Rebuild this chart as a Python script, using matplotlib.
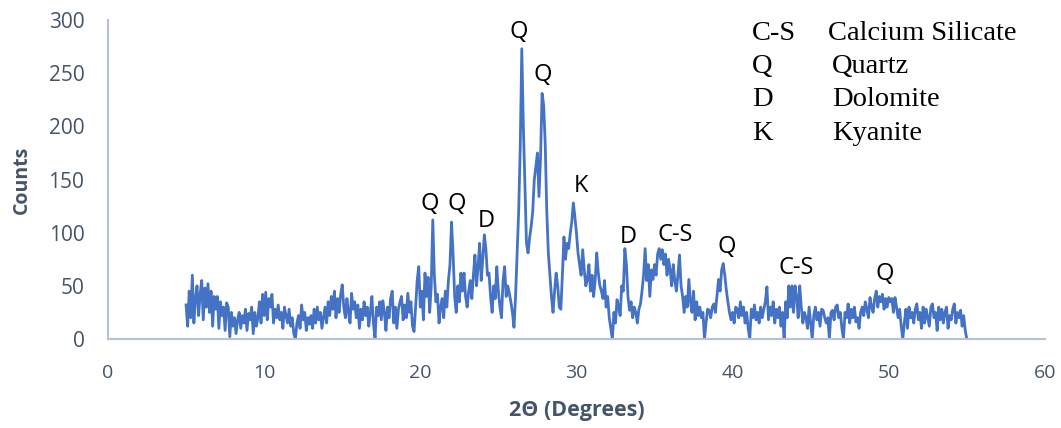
import numpy as np
import matplotlib.pyplot as plt

# XRD pattern, 5.0 to 55.0 deg in 0.1 deg steps
two_theta = np.round(np.arange(5.0, 55.05, 0.1), 1)
counts = [
    32, 12, 45, 20, 60, 15, 38, 50, 22, 42,
    55, 18, 48, 30, 52, 25, 45, 12, 40, 28,
    40, 10, 35, 22, 30, 8, 34, 30, 2, 25,
    12, 20, 5, 18, 25, 10, 22, 15, 28, 8,
    24, 18, 30, 5, 25, 12, 20, 35, 15, 42,
    22, 44, 18, 38, 30, 42, 15, 28, 20, 32,
    18, 25, 10, 30, 22, 15, 28, 12, 20, 5,
    0, 15, 22, 10, 32, 18, 25, 8, 20, 14,
    22, 10, 28, 15, 30, 18, 25, 10, 20, 30,
    15, 35, 22, 40, 28, 45, 20, 38, 25, 42,
    51, 30, 20, 38, 25, 15, 43, 28, 35, 20,
    32, 10, 28, 18, 35, 22, 30, 12, 25, 40,
    15, 0, 30, 22, 35, 18, 36, 25, 8, 30,
    20, 38, 45, 15, 30, 10, 28, 35, 40, 18,
    32, 20, 43, 25, 35, 12, 7, 30, 55, 68,
    30, 45, 18, 62, 40, 58, 25, 50, 112, 60,
    35, 42, 15, 30, 38, 20, 45, 30, 55, 70,
    110, 80, 40, 25, 50, 35, 62, 45, 62, 40,
    30, 45, 55, 38, 60, 79, 50, 68, 90, 55,
    75, 98, 85, 60, 62, 40, 25, 50, 38, 68,
    45, 30, 20, 55, 68, 40, 50, 43, 35, 25,
    11, 40, 81, 120, 180, 273, 200, 143, 90, 81,
    95, 106, 120, 150, 162, 175, 134, 170, 231, 220,
    184, 120, 81, 60, 40, 25, 45, 62, 50, 30,
    28, 60, 96, 75, 90, 85, 99, 110, 128, 115,
    100, 81, 70, 60, 84, 65, 50, 56, 70, 45,
    60, 40, 55, 81, 62, 50, 45, 38, 55, 30,
    40, 20, 10, 0, 25, 15, 37, 30, 22, 50,
    45, 85, 70, 40, 27, 35, 20, 30, 25, 15,
    28, 33, 45, 60, 85, 55, 70, 40, 65, 56,
    70, 60, 80, 85, 75, 84, 70, 80, 60, 75,
    65, 50, 70, 55, 45, 60, 79, 50, 40, 25,
    40, 30, 56, 35, 25, 45, 18, 35, 22, 30,
    20, 25, 0, 15, 28, 27, 20, 30, 33, 25,
    40, 56, 45, 65, 71, 60, 46, 35, 25, 18,
    25, 15, 30, 28, 20, 35, 22, 30, 15, 25,
    10, 0, 28, 20, 32, 18, 25, 15, 30, 20,
    28, 35, 49, 18, 30, 22, 35, 15, 28, 20,
    30, 12, 25, 0, 35, 20, 50, 30, 50, 25,
    50, 40, 20, 50, 30, 15, 25, 20, 10, 30,
    15, 0, 22, 30, 18, 25, 12, 28, 27, 20,
    15, 20, 0, 25, 27, 18, 30, 32, 20, 25,
    10, 0, 25, 20, 33, 15, 28, 20, 30, 16,
    20, 10, 25, 30, 22, 35, 28, 20, 39, 30,
    25, 38, 45, 30, 40, 35, 42, 28, 38, 30,
    39, 35, 38, 25, 39, 30, 20, 28, 12, 0,
    15, 28, 10, 30, 20, 25, 15, 28, 33, 18,
    25, 10, 30, 15, 28, 20, 12, 30, 33, 20,
    25, 8, 30, 18, 28, 15, 25, 30, 10, 22,
    18, 28, 33, 15, 25, 20, 27, 12, 22, 8,
    0,
]

# peak labels
peak_text = ["Q", "Q", "D", "Q", "Q", "K", "D", "C-S", "Q", "C-S", "Q"]
peak_x = [20.6, 22.35, 24.2, 26.3, 27.85, 30.3, 33.3, 36.3, 39.6, 44.1, 49.75]
peak_y = [127, 127, 111, 289, 248, 144, 96, 98, 87, 67, 61]

key_abbr = ["C-S", "Q", "D", "K"]
key_name = ["Calcium Silicate", "Quartz", "Dolomite", "Kyanite"]

line_col = "#4472C4"
txt_col = "#44546A"
spine_col = "#B8C2D4"

fig = plt.figure(figsize=(10.61, 4.28), dpi=100)
ax = fig.add_axes([0.1018, 0.208, 0.883, 0.745])
ax.plot(two_theta, counts, color=line_col, lw=2)

ax.set_xlim(0, 60)
ax.set_ylim(0, 300)
ax.set_xticks(range(0, 61, 10))
ax.set_yticks(range(0, 301, 50))
for s in ["top", "right"]:
    ax.spines[s].set_visible(False)
for s in ["left", "bottom"]:
    ax.spines[s].set_color(spine_col)
    ax.spines[s].set_linewidth(1.5)
ax.tick_params(length=0, colors=txt_col)
ax.tick_params(axis="x", pad=18, labelsize=14)
ax.tick_params(axis="y", pad=17, labelsize=15)
for lab in ax.get_xticklabels() + ax.get_yticklabels():
    lab.set_fontfamily("Open Sans")
    lab.set_color(txt_col)

ax.set_ylabel("Counts", fontsize=14, fontweight="bold", color=txt_col,
              fontfamily="Open Sans", labelpad=12)
ax.set_xlabel("2Θ (Degrees)", fontsize=15.5, fontweight="bold", color=txt_col,
              fontfamily="Open Sans", labelpad=13)

for t, x, y in zip(peak_text, peak_x, peak_y):
    ax.text(x, y, t, fontsize=17, ha="center", va="center", color="black",
            fontfamily="Open Sans")

for i in range(len(key_abbr)):
    yy = 1 - (33 + 33.5 * i) / 428
    fig.text(752 / 1061, yy, key_abbr[i], fontsize=20.5, fontfamily="Liberation Serif",
             va="center", ha="left")
    xx = 828 if i == 0 else 832
    fig.text(xx / 1061, yy, key_name[i], fontsize=20.5, fontfamily="Liberation Serif",
             va="center", ha="left")

fig.savefig("out.png", dpi=100)
